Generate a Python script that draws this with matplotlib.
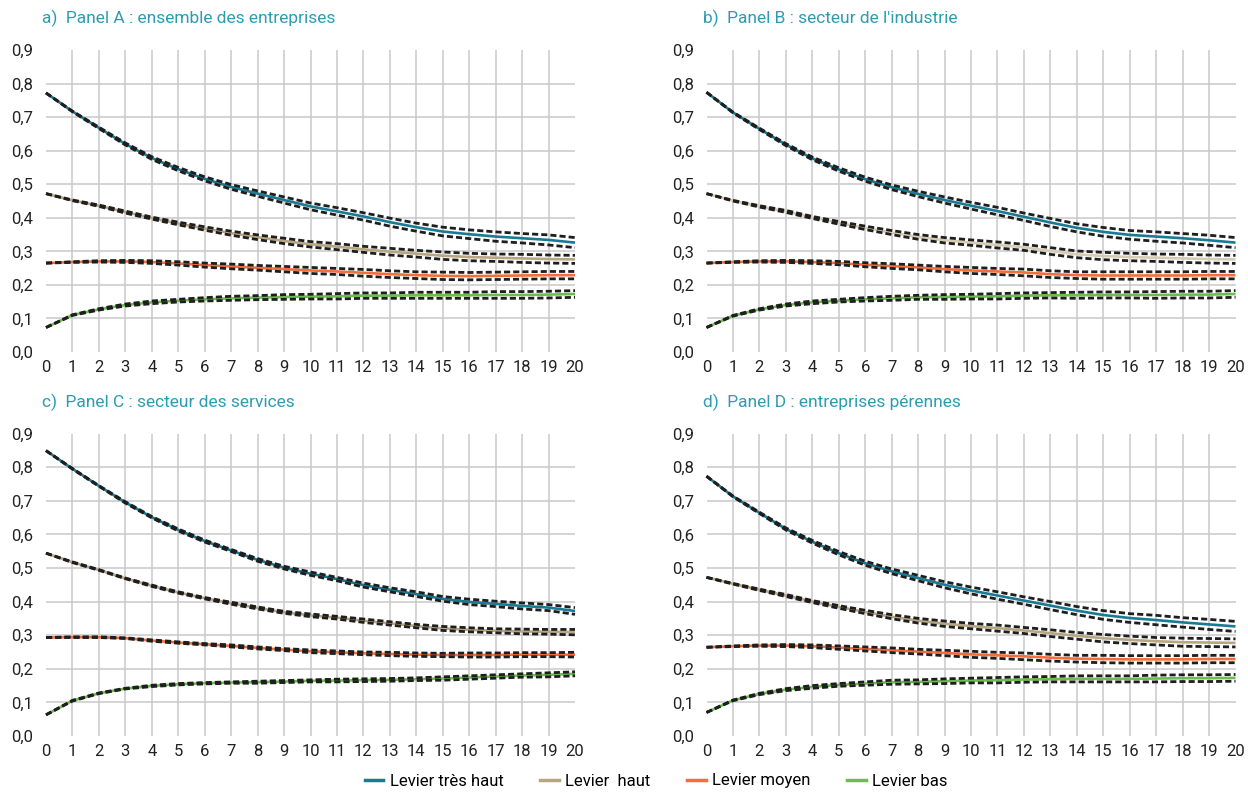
import matplotlib
matplotlib.use("Agg")
import matplotlib.pyplot as plt
from matplotlib.lines import Line2D
import numpy as np

plt.rcParams['font.family'] = ['Roboto', 'DejaVu Sans']

# ---------------- data ----------------
years = list(range(21))
y_ticks = [0.0, 0.1, 0.2, 0.3, 0.4, 0.5, 0.6, 0.7, 0.8, 0.9]
y_labels = ["0,0", "0,1", "0,2", "0,3", "0,4", "0,5", "0,6", "0,7", "0,8", "0,9"]
titles = ["a)  Panel A : ensemble des entreprises",
          "b)  Panel B : secteur de l'industrie",
          "c)  Panel C : secteur des services",
          "d)  Panel D : entreprises pérennes"]
series_names = ["Levier très haut", "Levier  haut", "Levier moyen", "Levier bas"]

A_blue = [0.772, 0.717, 0.668, 0.620, 0.578, 0.545, 0.516, 0.492, 0.472, 0.453, 0.434,
          0.419, 0.404, 0.387, 0.372, 0.359, 0.351, 0.344, 0.339, 0.334, 0.326]
A_tan = [0.472, 0.452, 0.436, 0.417, 0.399, 0.383, 0.368, 0.354, 0.342, 0.331, 0.321,
         0.314, 0.306, 0.299, 0.293, 0.287, 0.283, 0.281, 0.279, 0.277, 0.276]
A_orange = [0.265, 0.268, 0.270, 0.270, 0.268, 0.264, 0.259, 0.255, 0.251, 0.247, 0.243,
            0.240, 0.236, 0.232, 0.229, 0.227, 0.226, 0.227, 0.228, 0.229, 0.229]
A_green = [0.073, 0.110, 0.127, 0.140, 0.148, 0.153, 0.157, 0.160, 0.162, 0.164, 0.165,
           0.166, 0.168, 0.168, 0.169, 0.169, 0.169, 0.170, 0.170, 0.171, 0.173]

B_blue = [0.774, 0.714, 0.665, 0.618, 0.577, 0.544, 0.515, 0.491, 0.471, 0.453, 0.436,
          0.420, 0.403, 0.386, 0.370, 0.358, 0.349, 0.344, 0.339, 0.333, 0.326]
B_tan = [0.472, 0.451, 0.434, 0.419, 0.401, 0.385, 0.370, 0.356, 0.343, 0.333, 0.326,
         0.319, 0.312, 0.301, 0.291, 0.286, 0.283, 0.281, 0.279, 0.277, 0.276]
B_orange = [0.265, 0.268, 0.270, 0.270, 0.268, 0.265, 0.260, 0.256, 0.252, 0.247, 0.243,
            0.240, 0.237, 0.232, 0.229, 0.228, 0.228, 0.228, 0.228, 0.229, 0.229]
B_green = [0.073, 0.108, 0.127, 0.140, 0.148, 0.153, 0.157, 0.160, 0.163, 0.164, 0.165,
           0.166, 0.168, 0.169, 0.169, 0.170, 0.170, 0.170, 0.171, 0.171, 0.173]

C_blue = [0.849, 0.795, 0.744, 0.695, 0.651, 0.613, 0.580, 0.552, 0.524, 0.501, 0.483,
          0.467, 0.449, 0.435, 0.422, 0.408, 0.399, 0.393, 0.387, 0.382, 0.372]
C_tan = [0.544, 0.517, 0.494, 0.469, 0.447, 0.427, 0.410, 0.395, 0.381, 0.368, 0.359,
         0.352, 0.343, 0.335, 0.327, 0.320, 0.316, 0.313, 0.311, 0.310, 0.309]
C_orange = [0.293, 0.294, 0.294, 0.291, 0.284, 0.278, 0.273, 0.268, 0.262, 0.257, 0.252,
            0.249, 0.246, 0.244, 0.242, 0.241, 0.241, 0.241, 0.242, 0.242, 0.242]
C_green = [0.063, 0.105, 0.127, 0.141, 0.149, 0.154, 0.157, 0.159, 0.160, 0.162, 0.164,
           0.165, 0.166, 0.167, 0.169, 0.171, 0.174, 0.177, 0.180, 0.182, 0.185]

D_blue = [0.773, 0.713, 0.664, 0.616, 0.578, 0.544, 0.514, 0.490, 0.470, 0.450, 0.433,
          0.418, 0.403, 0.388, 0.373, 0.360, 0.351, 0.345, 0.338, 0.332, 0.326]
D_tan = [0.472, 0.453, 0.435, 0.418, 0.400, 0.384, 0.369, 0.355, 0.343, 0.334, 0.327,
         0.321, 0.314, 0.306, 0.298, 0.291, 0.286, 0.282, 0.279, 0.278, 0.277]
D_orange = [0.264, 0.267, 0.269, 0.269, 0.267, 0.263, 0.259, 0.255, 0.251, 0.247, 0.243,
            0.240, 0.237, 0.233, 0.230, 0.229, 0.228, 0.228, 0.228, 0.229, 0.229]
D_green = [0.070, 0.106, 0.125, 0.138, 0.146, 0.152, 0.156, 0.160, 0.161, 0.163, 0.165,
           0.166, 0.168, 0.169, 0.170, 0.170, 0.170, 0.171, 0.172, 0.172, 0.173]

# confidence-interval half widths
HW_blue = [0.000, 0.001, 0.002, 0.003, 0.004, 0.005, 0.006, 0.007, 0.008, 0.009, 0.010,
           0.011, 0.011, 0.012, 0.012, 0.013, 0.013, 0.014, 0.014, 0.015, 0.015]
HW_tan = [0.000, 0.001, 0.002, 0.003, 0.003, 0.004, 0.005, 0.006, 0.007, 0.008, 0.008,
          0.009, 0.009, 0.010, 0.010, 0.011, 0.011, 0.011, 0.012, 0.012, 0.012]
HW_orange = [0.000, 0.001, 0.002, 0.003, 0.004, 0.005, 0.006, 0.007, 0.007, 0.008, 0.009,
             0.009, 0.010, 0.010, 0.010, 0.011, 0.011, 0.011, 0.011, 0.011, 0.011]
HW_green = [0.000, 0.001, 0.002, 0.003, 0.004, 0.004, 0.005, 0.006, 0.006, 0.007, 0.007,
            0.008, 0.008, 0.008, 0.009, 0.009, 0.009, 0.010, 0.010, 0.010, 0.010]

HWC_blue = [0.000, 0.001, 0.001, 0.002, 0.002, 0.003, 0.003, 0.003, 0.004, 0.004, 0.005,
            0.005, 0.006, 0.006, 0.007, 0.007, 0.008, 0.008, 0.009, 0.009, 0.010]
HWC_tan = [0.000, 0.001, 0.001, 0.001, 0.002, 0.002, 0.002, 0.003, 0.003, 0.003, 0.004,
           0.004, 0.005, 0.005, 0.005, 0.006, 0.006, 0.006, 0.007, 0.007, 0.008]
HWC_orange = [0.000, 0.001, 0.001, 0.001, 0.002, 0.002, 0.002, 0.003, 0.003, 0.003, 0.004,
              0.004, 0.004, 0.005, 0.005, 0.005, 0.006, 0.006, 0.006, 0.006, 0.007]
HWC_green = [0.000, 0.001, 0.001, 0.001, 0.002, 0.002, 0.002, 0.002, 0.003, 0.003, 0.003,
             0.004, 0.004, 0.004, 0.004, 0.005, 0.005, 0.005, 0.005, 0.006, 0.006]

# ---------------- style ----------------
C_BLUE = "#197a94"
C_TAN = "#b7a681"
C_TAN_LIGHT = "#d6ccb3"
C_ORANGE = "#f26f3c"
C_GREEN = "#6bbd4f"
TITLE_COLOR = "#2b9db3"
GRID_COLOR = "#c9c9cc"

panels = [
    dict(title=titles[0], series=[A_blue, A_tan, A_orange, A_green],
         hw=[HW_blue, HW_tan, HW_orange, HW_green],
         colors=[C_BLUE, C_TAN, C_ORANGE, C_GREEN]),
    dict(title=titles[1], series=[B_blue, B_tan, B_orange, B_green],
         hw=[HW_blue, HW_tan, HW_orange, HW_green],
         colors=[C_BLUE, C_TAN_LIGHT, C_ORANGE, C_GREEN]),
    dict(title=titles[2], series=[C_blue, C_tan, C_orange, C_green],
         hw=[HWC_blue, HWC_tan, HWC_orange, HWC_green],
         colors=[C_BLUE, C_TAN, C_ORANGE, C_GREEN]),
    dict(title=titles[3], series=[D_blue, D_tan, D_orange, D_green],
         hw=[HW_blue, HW_tan, HW_orange, HW_green],
         colors=[C_BLUE, C_TAN, C_ORANGE, C_GREEN]),
]

W, H = 1248, 794
fig = plt.figure(figsize=(W / 100, H / 100), dpi=100)

# axes boxes in pixels: (left, top, right, bottom)
boxes = [(46, 50, 575, 352), (706.5, 50, 1235.5, 352),
         (46, 433.5, 575, 736), (706.5, 433.5, 1235.5, 736)]
title_y = [18, 18, 402, 402]

for p, (l, t, r, b), ty in zip(panels, boxes, title_y):
    ax = fig.add_axes([l / W, 1 - b / H, (r - l) / W, (b - t) / H])
    ax.set_xlim(0, 20)
    ax.set_ylim(0, 0.9)
    for s in ax.spines.values():
        s.set_visible(False)
    for xv in years[1:-1]:
        ax.axvline(xv, color=GRID_COLOR, lw=1.1, zorder=0)
    for yv in y_ticks[1:-1]:
        ax.axhline(yv, color=GRID_COLOR, lw=1.1, zorder=0)
    ax.set_xticks(years)
    ax.set_xticklabels([str(v) for v in years])
    ax.set_yticks(y_ticks)
    ax.set_yticklabels(y_labels)
    ax.tick_params(axis='both', length=0, labelsize=12, colors="#222222")
    ax.tick_params(axis='x', pad=6)
    ax.tick_params(axis='y', pad=9)

    for vals, hw, col in zip(p["series"], p["hw"], p["colors"]):
        v = np.array(vals)
        h = np.array(hw)
        ax.plot(years, v, color=col, lw=1.9, zorder=3, clip_on=False,
                solid_capstyle='butt', solid_joinstyle='round')
        for band in (v + h, v - h):
            ax.plot(years, band, color="#1e1e1e", lw=2.0, zorder=4,
                    linestyle=(0, (2.2, 1.1)), clip_on=False)

    fig.text((l - 4) / W, 1 - ty / H, p["title"],
             color=TITLE_COLOR, fontsize=12.5, ha='left', va='center')

handles = [Line2D([0], [0], color=c, lw=2.5) for c in [C_BLUE, C_TAN, C_ORANGE, C_GREEN]]
fig.legend(handles, series_names, loc='center', bbox_to_anchor=(0.526, 1 - 781 / H),
           ncol=4, frameon=False, fontsize=12, handlelength=1.1, handletextpad=0.4,
           columnspacing=2.2, borderpad=0.2)

fig.savefig("out.png", dpi=100)
